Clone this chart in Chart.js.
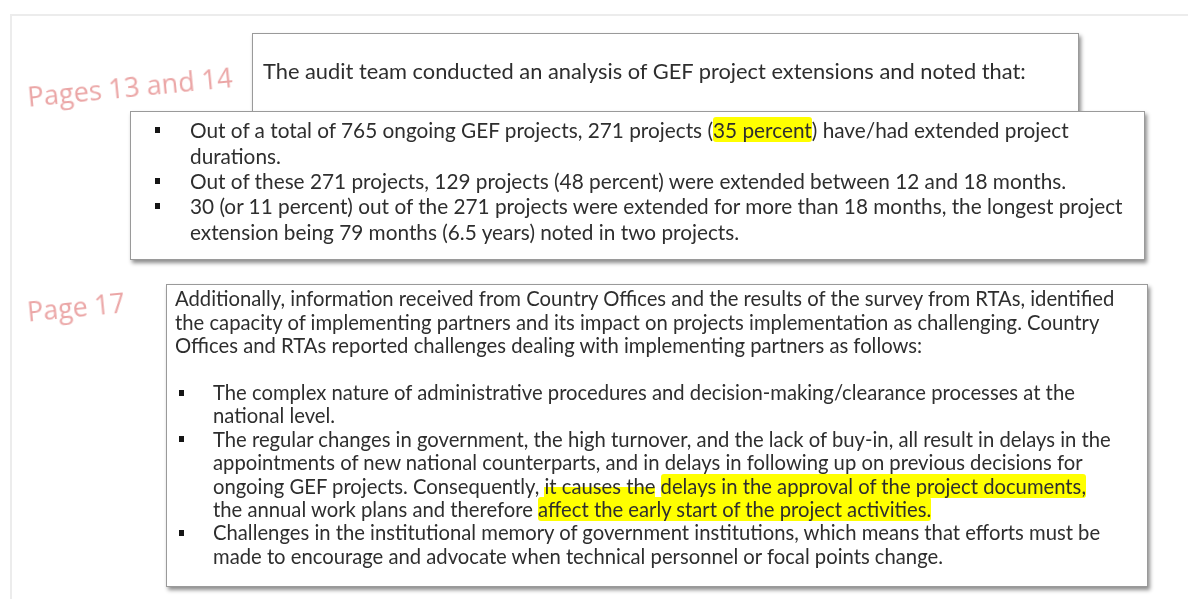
<!DOCTYPE html>
<html>
<head>
<meta charset="utf-8">
<script src="https://cdn.jsdelivr.net/npm/chart.js"></script>
<style>
  html, body { margin: 0; padding: 0; background: #fff; }
  body { width: 1188px; height: 599px; position: relative; overflow: hidden; }
  #page { position: absolute; left: 0; top: 0; }
  .box { position: absolute; background: #fff; border: 1px solid #9a9a9a; box-shadow: 2px 3px 4px rgba(0,0,0,0.45); }
  .line { position: absolute; white-space: nowrap; color: #2e2e2e; font-family: Lato, "Liberation Sans", sans-serif; }
  .hl { background: #ffff00; border-radius: 3px; }
  .hl-low { background: linear-gradient(transparent 55%, #ffff00 55%); }
  .bullet { position: absolute; width: 5px; height: 6px; background: #151515; }
  .label { position: absolute; white-space: nowrap; color: #eba6a6; font-family: "Open Sans", sans-serif; transform-origin: 50% 50%; }
</style>
</head>
<body>
<canvas id="page" width="1188" height="599"></canvas>

<script>
// Texte (les "données" de l'image)
const pageLabels = ["Pages 13 and 14", "Page 17"];

const introLines = [
  "The audit team conducted an analysis of GEF project extensions and noted that:"
];

// b = puce, [[...]] = surligné, {{...}} = surligné en bas seulement
const findingLines = [
  { b: true,  t: "Out of a total of 765 ongoing GEF projects, 271 projects ([[35 percent]]) have/had extended project" },
  { b: false, t: "durations." },
  { b: true,  t: "Out of these 271 projects, 129 projects (48 percent) were extended between 12 and 18 months." },
  { b: true,  t: "30 (or 11 percent) out of the 271 projects were extended for more than 18 months, the longest project" },
  { b: false, t: "extension being 79 months (6.5 years) noted in two projects." }
];

const challengeIntro = [
  "Additionally, information received from Country Offices and the results of the survey from RTAs, identified",
  "the capacity of implementing partners and its impact on projects implementation as challenging. Country",
  "Offices and RTAs reported challenges dealing with implementing partners as follows:",
  ""
];

const challengeLines = [
  { b: true,  t: "The complex nature of administrative procedures and decision-making/clearance processes at the" },
  { b: false, t: "national level." },
  { b: true,  t: "The regular changes in government, the high turnover, and the lack of buy-in, all result in delays in the" },
  { b: false, t: "appointments of new national counterparts, and in delays in following up on previous decisions for" },
  { b: false, t: "ongoing GEF projects. Consequently, {{it causes the}} [[delays in the approval of the project documents,]]" },
  { b: false, t: "the annual work plans and therefore [[affect the early start of the project activities.]]" },
  { b: true,  t: "Challenges in the institutional memory of government institutions, which means that efforts must be" },
  { b: false, t: "made to encourage and advocate when technical personnel or focal points change." }
];

// Mise en page
const boxes = [
  { x: 252, y: 33,  w: 825,  h: 77 },
  { x: 130, y: 111, w: 1013, h: 147 },
  { x: 166, y: 284, w: 980,  h: 301 }
];

const measureCtx = document.createElement("canvas").getContext("2d");
const fitSize = (text, family, width) => {
  measureCtx.font = "100px " + family;
  return 100 * width / measureCtx.measureText(text).width;
};

const toHtml = (s) =>
  s.replace(/\[\[(.+?)\]\]/g, '<span class="hl">$1</span>')
   .replace(/\{\{(.+?)\}\}/g, '<span class="hl-low">$1</span>');

const addBox = (b) => {
  const el = document.createElement("div");
  el.className = "box";
  el.style.left = b.x + "px";
  el.style.top = b.y + "px";
  el.style.width = b.w + "px";
  el.style.height = b.h + "px";
  document.body.appendChild(el);
};

const addLine = (text, x, cy, size, step) => {
  const el = document.createElement("div");
  el.className = "line";
  el.style.left = x + "px";
  el.style.top = (cy - step / 2) + "px";
  el.style.fontSize = size + "px";
  el.style.lineHeight = step + "px";
  el.innerHTML = toHtml(text);
  document.body.appendChild(el);
};

const addBullet = (x, cy) => {
  const el = document.createElement("div");
  el.className = "bullet";
  el.style.left = x + "px";
  el.style.top = (cy - 3) + "px";
  document.body.appendChild(el);
};

const plain = (s) => s.replace(/\[\[|\]\]|\{\{|\}\}/g, "");
const family = "Lato";

// Fond + cadre clair, dessinés par Chart.js
new Chart(document.getElementById("page").getContext("2d"), {
  type: "scatter",
  data: { datasets: [] },
  options: {
    responsive: false,
    animation: false,
    events: [],
    plugins: { legend: { display: false }, tooltip: { enabled: false } },
    scales: { x: { display: false }, y: { display: false } }
  },
  plugins: [{
    id: "paper",
    beforeDraw: (chart) => {
      const c = chart.ctx;
      c.save();
      c.fillStyle = "#fff";
      c.fillRect(0, 0, chart.width, chart.height);
      c.strokeStyle = "#ececec";
      c.lineWidth = 2;
      c.beginPath();
      c.moveTo(11, chart.height);
      c.lineTo(11, 15);
      c.lineTo(chart.width, 15);
      c.stroke();
      c.restore();
    }
  }]
});

boxes.forEach(addBox);

// Bloc 1
const size1 = fitSize(introLines[0], family, 764);
introLines.forEach((t, i) => addLine(t, 263, 70 + i * 25, size1, 25));

// Bloc 2 (ajusté sur la ligne la plus longue)
const size2 = fitSize(plain(findingLines[3].t), family, 935);
findingLines.forEach((l, i) => {
  const cy = 130 + i * 25.3;
  if (l.b) addBullet(155, cy);
  addLine(l.t, 190, cy, size2, 25.3);
});

// Bloc 3
const size3 = fitSize(challengeIntro[0], family, 941);
const step3 = 23.4;
challengeIntro.forEach((t, i) => addLine(t, 175, 299 + i * step3, size3, step3));
challengeLines.forEach((l, i) => {
  const cy = 299 + (challengeIntro.length + i) * step3;
  if (l.b) addBullet(179, cy);
  addLine(l.t, 213, cy, size3, step3);
});

// Étiquettes roses
const labelPos = [
  { cx: 130, cy: 86, w: 206 },
  { cx: 76,  cy: 306, w: 98 }
];
pageLabels.forEach((t, i) => {
  const p = labelPos[i];
  const size = fitSize(t, '"Open Sans"', p.w);
  const el = document.createElement("div");
  el.className = "label";
  el.style.fontSize = size + "px";
  el.textContent = t;
  document.body.appendChild(el);
  el.style.left = (p.cx - el.offsetWidth / 2) + "px";
  el.style.top = (p.cy - el.offsetHeight / 2) + "px";
  el.style.transform = "rotate(-5.5deg)";
});
</script>
</body>
</html>
